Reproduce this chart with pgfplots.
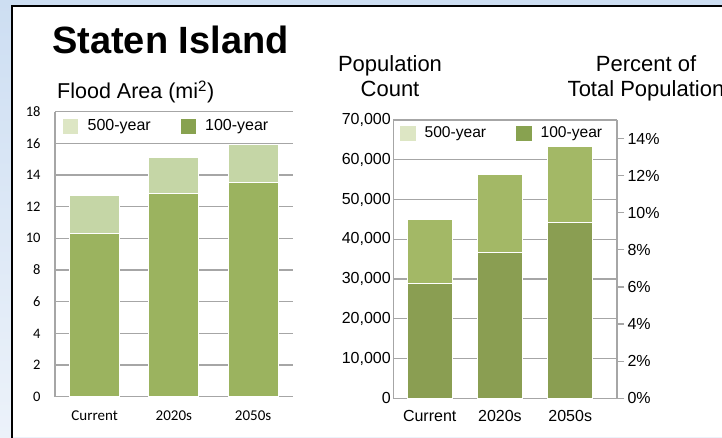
\documentclass[border=0pt]{standalone}
\usepackage{fontspec}
\setmainfont{Liberation Sans}
\newfontfamily\calibri{Carlito}
\usepackage{pgfplots}
\pgfplotsset{compat=1.18}
\definecolor{bgtop}{RGB}{205,222,242}
\definecolor{bgbot}{RGB}{236,242,250}
\definecolor{gridc}{RGB}{166,166,166}
\definecolor{Lhund}{RGB}{155,179,95}
\definecolor{Lfive}{RGB}{197,214,166}
\definecolor{Rhund}{RGB}{138,158,82}
\definecolor{Rfive}{RGB}{163,184,102}
\definecolor{legfive}{RGB}{221,230,196}
\definecolor{leghund}{RGB}{136,162,80}
\begin{document}
\begin{tikzpicture}[x=1pt,y=1pt]
\useasboundingbox (0,0) rectangle (722,437);
\shade[top color=bgtop, bottom color=bgbot] (0,0) rectangle (722,437);
\fill[white] (12,0) rectangle (722,431);
\draw[line width=2pt] (12,-2) -- (12,431) -- (724,431);

\node[anchor=base west, inner sep=0, font=\bfseries\fontsize{38}{40}\selectfont] at (52,383.7) {Staten Island};
\node[anchor=base west, inner sep=0, font=\fontsize{21.5}{24}\selectfont] at (57,338) {Flood Area (mi\textsuperscript{2})};
\node[anchor=base, inner sep=0, font=\fontsize{22}{25}\selectfont] at (390,365.3) {Population};
\node[anchor=base, inner sep=0, font=\fontsize{22}{25}\selectfont] at (390,340.3) {Count};
\node[anchor=base, inner sep=0, font=\fontsize{22}{25}\selectfont] at (646,365.3) {Percent of};
\node[anchor=base, inner sep=0, font=\fontsize{22}{25}\selectfont] at (646,340.3) {Total Population};

% Left chart: flood area
\begin{axis}[
  at={(55pt,40.3pt)}, anchor=south west, scale only axis,
  width=237.7pt, height=285.1pt,
  xmin=-0.5, xmax=2.5, ymin=0, ymax=18,
  xtick={0,1,2}, xticklabels={Current,2020s,2050s},
  ytick={0,2,...,18},
  ymajorgrids, grid style={color=gridc, line width=1.2pt},
  axis x line*=bottom, axis y line*=left,
  axis line style={color=gridc, line width=1.2pt},
  major tick length=0pt,
  ybar stacked, bar width=50pt,
  /pgf/number format/assume math mode=true,
  yticklabel style={font=\calibri\fontsize{14.5}{15}\selectfont, text=black, xshift=-11pt},
  xticklabel style={font=\calibri\fontsize{15}{16}\selectfont, text=black, yshift=-11pt},
  legend columns=2,
  legend style={at={(0.0337,0.9495)}, anchor=west, draw=none, fill=none,
    font=\fontsize{16}{18}\selectfont, inner sep=0pt,
    nodes={inner sep=0pt},
    /tikz/every odd column/.append style={column sep=10pt},
    /tikz/every even column/.append style={column sep=30pt}},
  clip=false,
]
\addplot[fill=Lhund, draw=white, line width=1pt, forget plot] coordinates {(0,10.3) (1,12.8) (2,13.5)};
\addplot[fill=Lfive, draw=white, line width=1pt, forget plot] coordinates {(0,2.4) (1,2.3) (2,2.4)};
\addlegendimage{legend image code/.code={\fill[legfive] (0pt,-7pt) rectangle (14pt,7pt);}}
\addlegendentry{500-year}
\addlegendimage{legend image code/.code={\fill[leghund] (0pt,-7pt) rectangle (14pt,7pt);}}
\addlegendentry{100-year}
\end{axis}

% Right chart: population count
\begin{axis}[
  at={(393.3pt,38.7pt)}, anchor=south west, scale only axis,
  width=223.7pt, height=278.3pt,
  xmin=-0.518, xmax=2.666, ymin=0, ymax=70000,
  xtick={0,1,2}, xticklabels={Current,2020s,2050s},
  ytick={0,10000,...,70000},
  scaled y ticks=false,
  /pgf/number format/.cd, fixed, 1000 sep={,}, assume math mode=true, /pgfplots/.cd,
  ymajorgrids, grid style={color=gridc, line width=1.2pt},
  axis x line*=bottom, axis y line*=left,
  axis line style={color=gridc, line width=1.2pt},
  major tick length=0pt,
  ybar stacked, bar width=45pt,
  yticklabel style={font=\fontsize{16}{18}\selectfont, text=black, xshift=1pt},
  xticklabel style={font=\fontsize{16}{18}\selectfont, text=black, yshift=-8pt},
  legend columns=2,
  legend style={at={(0.030,0.953)}, anchor=west, draw=none, fill=none,
    font=\fontsize{15.6}{18}\selectfont, inner sep=0pt,
    nodes={inner sep=0pt},
    /tikz/every odd column/.append style={column sep=9pt},
    /tikz/every even column/.append style={column sep=30pt}},
  clip=false,
]
\addplot[fill=Rhund, draw=white, line width=1pt, forget plot] coordinates {(0,29000) (1,36600) (2,44200)};
\addplot[fill=Rfive, draw=white, line width=1pt, forget plot] coordinates {(0,16000) (1,19700) (2,19100)};
\addlegendimage{legend image code/.code={\fill[legfive] (0pt,-7pt) rectangle (15pt,7pt);}}
\addlegendentry{500-year}
\addlegendimage{legend image code/.code={\fill[leghund] (0pt,-7pt) rectangle (15pt,7pt);}}
\addlegendentry{100-year}
\end{axis}

% Right chart: percent axis
\begin{axis}[
  at={(393.3pt,38.7pt)}, anchor=south west, scale only axis,
  width=223.7pt, height=278.3pt,
  xmin=0, xmax=1, ymin=0, ymax=15,
  axis x line=none, axis y line*=right,
  ytick={0,2,...,14},
  yticklabels={0\%,2\%,4\%,6\%,8\%,10\%,12\%,14\%},
  tick align=outside, major tick length=7pt,
  tick style={color=gridc, line width=1.2pt},
  axis line style={color=gridc, line width=1.2pt},
  yticklabel style={font=\fontsize{16}{18}\selectfont, text=black},
]
\end{axis}
\end{tikzpicture}
\end{document}
